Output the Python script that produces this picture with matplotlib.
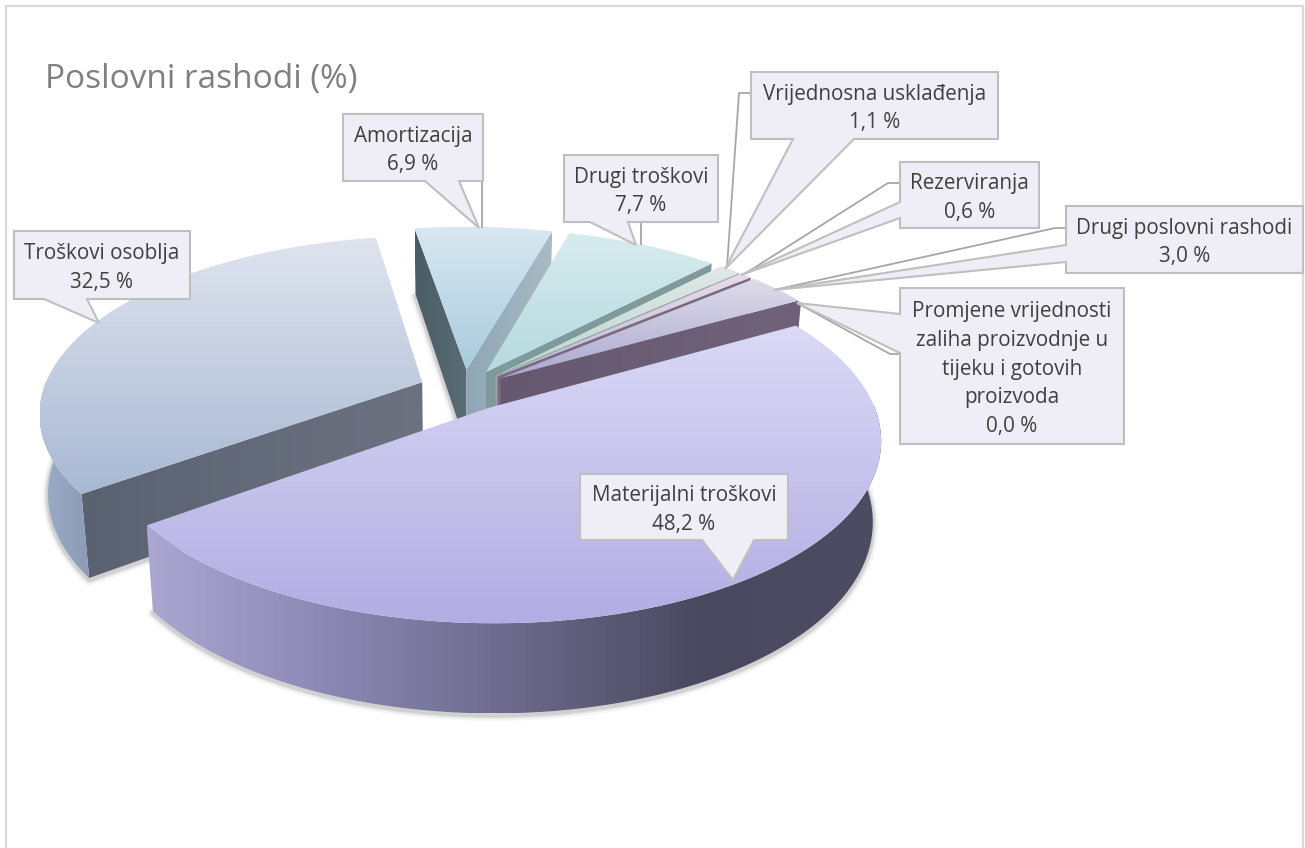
import numpy as np
import matplotlib
matplotlib.use('Agg')
import matplotlib.pyplot as plt
from matplotlib.colors import LinearSegmentedColormap
from matplotlib.patches import Polygon

categories = ['Materijalni troškovi', 'Troškovi osoblja', 'Amortizacija', 'Drugi troškovi',
              'Vrijednosna usklađenja', 'Rezerviranja', 'Drugi poslovni rashodi',
              'Promjene vrijednosti\nzaliha proizvodnje u\ntijeku i gotovih\nproizvoda']
values = [48.2, 32.5, 6.9, 7.7, 1.1, 0.6, 3.0, 0.0]

top_colors = [('#dad9f6', '#b2ade3'), ('#dfe4ef', '#a8b9d3'), ('#d9e8f2', '#a8cbdc'), ('#d8ecef', '#b4d9de'),
              ('#e0e9e7', '#bcd4d2'), ('#e8dcea', '#c4b8d8'), ('#dfdcea', '#aaa8d0'), ('#dfdcea', '#aaa8d0')]
rim_colors = [['#aaa7d3', '#8a87b4', '#6c698b', '#4b4960', '#4e4c63'], ['#9dadc7', '#8b9ab6']] + [['#8899aa', '#8899aa']] * 6
cut_colors = [('#4b4960', '#4b4960'), ('#5a6271', '#6c7280'), ('#4a5c65', '#5a6c75'), ('#7f9a9a', '#7f9a9a'),
              ('#97a8a4', '#97a8a4'), ('#7a6a84', '#7a6a84'), ('#65586f', '#6f6279'), ('#65586f', '#6f6279')]
end_colors = {2: ('#8fa7b5', '#a8bac5')}

# callouts: box x0, y0, x1, y1, pointer base a, pointer base b, tip, leader points
callouts = [
    ((580, 474, 788, 540), (702, 540), (754, 540), (733, 580), None),
    ((14, 231, 190, 299), (44, 299), (87, 299), (99, 323), None),
    ((343, 114, 483, 181), (425, 181), (459, 181), (479, 228), [(482, 181), (482, 228)]),
    ((564, 155, 718, 222), (590, 222), (628, 222), (636, 245), [(641, 222), (641, 245)]),
    ((751, 72, 998, 139), (793, 139), (854, 139), (725, 269), [(751, 93), (739, 93), (727, 267)]),
    ((900, 162, 1039, 228), (900, 202), (900, 218), (741, 275), [(900, 183), (888, 183), (746, 273)]),
    ((1066, 206, 1303, 273), (1066, 245), (1066, 262), (774, 290), [(1066, 228), (1055, 228), (774, 290)]),
    ((900, 288, 1124, 444), (900, 314), (900, 353), (797, 303), [(900, 354), (890, 354), (797, 303)]),
]

cx, cy = 464, 390
rx, ry = 379, 173
persp = 0.167
explode = 0.12
start_angle = 330.2


def project(x, y):
    w = 1 - persp * y
    return cx + rx * x / w, cy + ry * y / w


def lower(x, y, sx, sy):
    return cx + (sx - cx) * 0.98, sy + 78 + 11 * y


def grad(ax, pts, cols, horizontal=False, z=2):
    pts = np.array(pts)
    cmap = LinearSegmentedColormap.from_list('g', list(cols))
    g = np.linspace(0, 1, 256)
    g = g.reshape(1, -1) if horizontal else g.reshape(-1, 1)
    x0, x1 = pts[:, 0].min(), pts[:, 0].max()
    y0, y1 = pts[:, 1].min(), pts[:, 1].max()
    im = ax.imshow(g, cmap=cmap, extent=(x0, x1, y1, y0), aspect='auto', zorder=z, interpolation='bilinear')
    p = Polygon(pts, closed=True, transform=ax.transData, fc='none', ec='none')
    ax.add_patch(p)
    im.set_clip_path(p)


fig = plt.figure(figsize=(13.05, 8.48), dpi=100)
ax = fig.add_axes([0, 0, 1, 1])
plt.rcParams['font.family'] = ['Open Sans', 'DejaVu Sans']

# work out slices
slices = []
a0 = start_angle
for v in values:
    a1 = a0 + v * 3.6
    mid = np.radians((a0 + a1) / 2)
    ox, oy = explode * np.cos(mid), explode * np.sin(mid)
    th = np.radians(np.linspace(a0, a1, max(int(v * 5), 2)))
    X, Y = ox + np.cos(th), oy + np.sin(th)
    sx, sy = project(X, Y)
    bx, by = lower(X, Y, sx, sy)
    ax0, ay0 = project(ox, oy)
    bax, bay = lower(ox, oy, ax0, ay0)
    slices.append(dict(th=th, sx=sx, sy=sy, bx=bx, by=by, ax0=ax0, ay0=ay0, bax=bax, bay=bay))
    a0 = a1

# soft shadow round the bottoms
for s in slices:
    ox_line = np.r_[s['bax'], s['bx'], s['bax']]
    oy_line = np.r_[s['bay'], s['by'], s['bay']] + 2
    for lw, al in zip([8, 5, 3], [0.04, 0.06, 0.09]):
        ax.plot(ox_line, oy_line, color='black', lw=lw, alpha=al, zorder=1, solid_joinstyle='round')

z = 2
for i in [1, 2, 3, 4, 5, 6, 7, 0]:
    s = slices[i]
    th = s['th']
    # cut faces that look at the viewer
    if np.cos(th[0]) < 0:
        pts = [(s['ax0'], s['ay0']), (s['sx'][0], s['sy'][0]), (s['bx'][0], s['by'][0]), (s['bax'], s['bay'])]
        grad(ax, pts, cut_colors[i], horizontal=True, z=z)
    if np.cos(th[-1]) > 0:
        pts = [(s['ax0'], s['ay0']), (s['sx'][-1], s['sy'][-1]), (s['bx'][-1], s['by'][-1]), (s['bax'], s['bay'])]
        grad(ax, pts, end_colors.get(i, cut_colors[i]), horizontal=True, z=z)
    # rim
    front = np.sin(th) >= -0.02
    if front.sum() > 1:
        pts = list(zip(s['sx'][front], s['sy'][front])) + list(zip(s['bx'][front][::-1], s['by'][front][::-1]))
        grad(ax, pts, rim_colors[i], horizontal=True, z=z)
    # top
    pts = [(s['ax0'], s['ay0'])] + list(zip(s['sx'], s['sy']))
    grad(ax, pts, top_colors[i], z=z + 0.5)
    z += 1

# callouts
box_fc = '#efedf5'
box_ec = '#bfbfbf'
for cat, v, c in zip(categories, values, callouts):
    (x0, y0, x1, y1), pa, pb, tip, leader = c
    if leader:
        lx, ly = zip(*leader)
        ax.plot(lx, ly, color='#a6a6a6', lw=1.3, zorder=20, solid_capstyle='butt')
    if pa[1] == y1:
        outline = [(x0, y0), (x1, y0), (x1, y1), pb, tip, pa, (x0, y1)]
    else:
        outline = [(x0, y0), (x1, y0), (x1, y1), (x0, y1), pb, tip, pa]
    ax.add_patch(Polygon(outline, closed=True, fc=box_fc, ec=box_ec, lw=1.5, zorder=21, joinstyle='miter'))
    label = cat + '\n' + f'{v:.1f}'.replace('.', ',') + ' %'
    ax.text((x0 + x1) / 2, (y0 + y1) / 2 + 3, label, ha='center', va='center', fontsize=14.9,
            color='#404040', linespacing=1.48, zorder=22)

ax.text(45, 88, 'Poslovni rashodi (%)', fontsize=24, color='#7f7f7f', ha='left', va='baseline', zorder=22)

# chart frame, bottom edge runs off the picture
ax.plot([6, 6, 1303, 1303], [860, 5.5, 5.5, 860], color='#d9d9d9', lw=1.6, zorder=0)

ax.set_xlim(0, 1305)
ax.set_ylim(848, 0)
ax.axis('off')
fig.savefig('out.png', dpi=100, facecolor='white')
